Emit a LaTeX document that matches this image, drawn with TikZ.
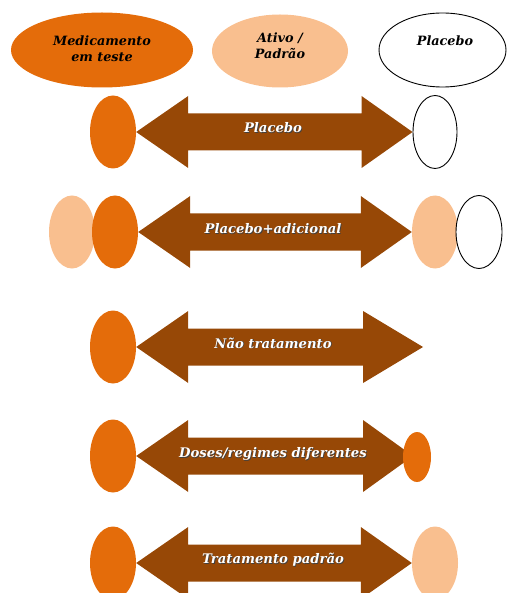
\documentclass[tikz,border=0pt]{standalone}
\usepackage{fontspec}
\setmainfont{DejaVu Serif}
\usetikzlibrary{shapes.geometric,calc}
\pgfdeclarelayer{background}
\pgfsetlayers{background,main}

\definecolor{testorange}{HTML}{E46C0A}
\definecolor{activepeach}{HTML}{F9BF8F}
\definecolor{arrowbrown}{HTML}{974806}

\tikzset{
  blob/.style={ellipse, inner sep=0pt, minimum width=46pt, minimum height=73pt},
  test/.style={blob, fill=testorange},
  active/.style={blob, fill=activepeach},
  placebo/.style={blob, draw=black, line width=0.9pt, fill=white},
  band/.style={fill=arrowbrown},
  lbl/.style={text=white, font=\bfseries\itshape\fontsize{13.2}{15}\selectfont, inner sep=0pt},
  lblshadow/.style={lbl, text=black!75},
  headtxt/.style={text=black, font=\bfseries\itshape\fontsize{12.8}{16}\selectfont, align=center, inner sep=0pt},
}

% double-headed band from point #2 to point #3, right head length #1
\newcommand\dblarrow[3][51]{%
  \begin{pgfonlayer}{background}
  \fill[band] let \p1=(#2), \p2=(#3) in
    (\p1) -- (\x1+52pt,\y1+36pt) -- (\x1+52pt,\y1+18.5pt)
    -- (\x2-#1pt,\y1+18.5pt) -- (\x2-#1pt,\y1+36pt) -- (\p2)
    -- (\x2-#1pt,\y1-36pt) -- (\x2-#1pt,\y1-18.5pt)
    -- (\x1+52pt,\y1-18.5pt) -- (\x1+52pt,\y1-36pt) -- cycle;
  \end{pgfonlayer}}

% white label with a soft dark drop shadow
\newcommand\bandlabel[3]{%
  \node[lblshadow] (#1s) at ($(#2)+(0.8pt,-0.8pt)$) {#3};
  \node[lbl] (#1) at (#2) {#3};}

\begin{document}
\begin{tikzpicture}[x=1pt, y=-1pt]
  \useasboundingbox (0,0) rectangle (507,593);
  \clip (0,0) rectangle (507,593);

  % legend
  \node[ellipse, fill=testorange, minimum width=182pt, minimum height=75pt, inner sep=0pt] (kTest) at (102,50) {};
  \node[headtxt] (kTestT) at (102,49) {Medicamento\\em teste};
  \node[ellipse, fill=activepeach, minimum width=136pt, minimum height=73pt, inner sep=0pt] (kAct) at (280,51) {};
  \node[headtxt] (kActT) at (280,46) {Ativo /\\Padrão};
  \node[ellipse, draw=black, line width=0.9pt, minimum width=127pt, minimum height=74pt, inner sep=0pt] (kPla) at (442.5,50) {};
  \node[headtxt] (kPlaT) at (445,41) {Placebo};

  % row 1: placebo
  \node[test] (a1) at (113,132) {};
  \node[placebo, minimum width=44pt] (b1) at (435,132) {};
  \dblarrow{a1.east}{b1.west}
  \bandlabel{t1}{273,128}{Placebo}

  % row 2: placebo + add-on
  \node[active] (c2) at (72,232) {};
  \node[test] (a2) at (115,232) {};
  \node[active] (b2) at (435,232) {};
  \node[placebo] (d2) at (479,232) {};
  \dblarrow{a2.east}{b2.west}
  \bandlabel{t2}{273,229}{Placebo+adicional}

  % row 3: no treatment
  \node[test] (a3) at (113,347) {};
  \coordinate (b3) at (423,347);
  \dblarrow[60]{a3.east}{b3}
  \bandlabel{t3}{273,343}{Não tratamento}

  % row 4: different doses / regimens
  \node[test] (a4) at (113,456) {};
  \coordinate (e4) at (413,456);
  \node[blob, fill=testorange, minimum width=28pt, minimum height=50pt] (b4) at (417,457) {};
  \dblarrow[50]{a4.east}{e4}
  \bandlabel{t4}{273,454}{Doses/regimes diferentes}

  % row 5: standard treatment
  \node[test] (a5) at (113,563) {};
  \node[active] (b5) at (435,563) {};
  \dblarrow{a5.east}{b5.west}
  \bandlabel{t5}{273,560}{Tratamento padrão}
\end{tikzpicture}
\end{document}
